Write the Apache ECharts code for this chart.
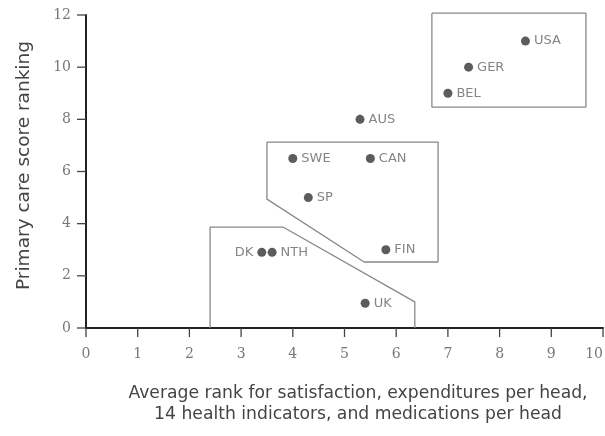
<!DOCTYPE html>
<html><head><meta charset="utf-8">
<script src="https://cdn.jsdelivr.net/npm/echarts@6/dist/echarts.min.js"></script>
<style>html,body{margin:0;padding:0;background:#fff}#c{width:605px;height:436px}</style>
</head><body><div id="c"></div>
<script>
const countries = ['USA','GER','BEL','AUS','SWE','CAN','SP','FIN','DK','NTH','UK'];
const xValues = [8.5, 7.4, 7.0, 5.3, 4.0, 5.5, 4.3, 5.8, 3.4, 3.6, 5.4];
const yValues = [11, 10, 9, 8, 6.5, 6.5, 5, 3, 2.9, 2.9, 0.95];
const labelSide = ['right','right','right','right','right','right','right','right','left','right','right'];
const xTicks = [0,1,2,3,4,5,6,7,8,9,10];
const yTicks = [0,2,4,6,8,10,12];
const groupTop = [[6.69,12.07],[9.67,12.07],[9.67,8.47],[6.69,8.47],[6.69,12.07]];
const groupMid = [[3.5,7.13],[6.81,7.13],[6.81,2.53],[5.38,2.53],[3.5,4.94],[3.5,7.13]];
const groupLow = [[2.4,0],[2.4,3.87],[3.81,3.87],[6.36,1.0],[6.36,0]];

const pts = countries.map((c,i)=>({
  value:[xValues[i], yValues[i]], name:c,
  label:{position:labelSide[i]}
}));
const polyLine = d => ({type:'line', data:d, symbol:'none', silent:true, clip:false,
  lineStyle:{color:'#888', width:1.3}, z:1, animation:false});

const tickData = xTicks.map(v=>[v,0,0]).concat(yTicks.map(v=>[0,v,1]));

const chart = echarts.init(document.getElementById('c'));
chart.setOption({
  animation:false,
  grid:{left:86, right:2, top:15, bottom:108, outerBoundsMode:'none', containLabel:false},
  xAxis:{type:'value', min:0, max:10, interval:1,
    axisLine:{show:true, onZero:false, lineStyle:{color:'#222', width:2}},
    axisTick:{show:false},
    splitLine:{show:false},
    axisLabel:{color:'#777', fontFamily:'DejaVu Serif', fontSize:14, margin:19, alignMaxLabel:'right',
      formatter:v=>xTicks.includes(v)?String(v):''},
    name:'Average rank for satisfaction, expenditures per head,\n14 health indicators, and medications per head',
    nameLocation:'middle', nameGap:55,
    nameTextStyle:{color:'#444', fontFamily:'DejaVu Sans', fontSize:17.2, lineHeight:21, padding:[0,0,0,27]}
  },
  yAxis:{type:'value', min:0, max:12, interval:2,
    axisLine:{show:true, onZero:false, lineStyle:{color:'#222', width:2}},
    axisTick:{show:false},
    splitLine:{show:false},
    axisLabel:{color:'#777', fontFamily:'DejaVu Serif', fontSize:14, margin:15,
      formatter:v=>yTicks.includes(v)?String(v):''},
    name:'Primary care score ranking', nameLocation:'middle', nameGap:52,
    nameTextStyle:{color:'#444', fontFamily:'DejaVu Sans', fontSize:18.5, padding:[0,0,0,12]}
  },
  series:[
    polyLine(groupTop), polyLine(groupMid), polyLine(groupLow),
    {type:'custom', data:tickData, silent:true, clip:false, z:5,
      renderItem:(params, api)=>{
        const p = api.coord([api.value(0), api.value(1)]);
        const vertical = api.value(2) === 0;
        const shape = vertical ? {x1:p[0], y1:p[1], x2:p[0], y2:p[1]+9}
                               : {x1:p[0]-9, y1:p[1], x2:p[0], y2:p[1]};
        return {type:'line', shape, style:{stroke:'#444', lineWidth:1.3}};
      }},
    {type:'scatter', data:pts, symbolSize:9, z:3,
      itemStyle:{color:'#333'},
      label:{show:true, formatter:'{b}', distance:4, color:'#666',
        fontFamily:'DejaVu Sans', fontSize:13}}
  ]
});
</script></body></html>
